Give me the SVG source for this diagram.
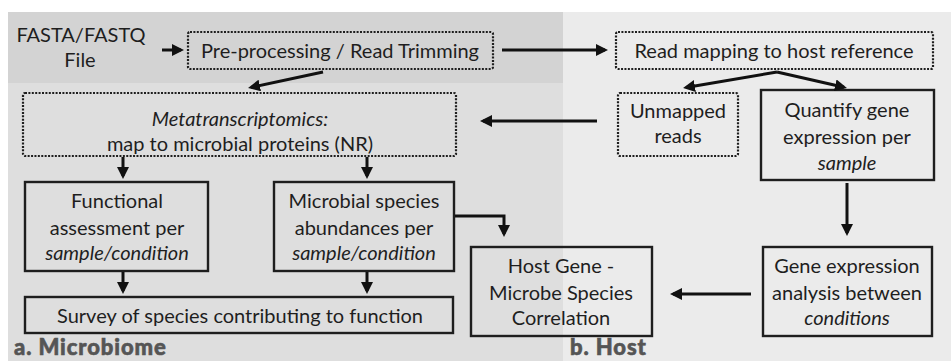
<svg xmlns="http://www.w3.org/2000/svg" width="951" height="361" viewBox="0 0 951 361">
  <style>
    .t { font-family: Lato, "Open Sans", "Liberation Sans", sans-serif; font-size: 20px; fill: #1e1e1e; text-anchor: middle; }
    .i { font-style: italic; }
    .lbl { font-family: Lato, "Liberation Sans", sans-serif; font-size: 22px; font-weight: 900; fill: #555555; letter-spacing: 0.9px; stroke: #555555; stroke-width: 0.6; }
    .dot { fill: none; stroke: #1e1e1e; stroke-width: 2.2; stroke-dasharray: 2 1.4; }
    .box { fill: none; stroke: #1e1e1e; stroke-width: 2.4; }
    .con { fill: none; stroke: #111111; stroke-width: 3; }
  </style>
  <defs>
    <marker id="arrow" markerUnits="userSpaceOnUse" viewBox="0 0 12 12" markerWidth="12" markerHeight="12" refX="9" refY="6" orient="auto">
      <path d="M0,0 L12,6 L0,12 z" fill="#111111"/>
    </marker>
  </defs>

  <!-- panel backgrounds -->
  <rect x="0" y="0" width="951" height="361" fill="#ffffff"/>
  <rect x="8" y="12" width="555" height="349" fill="#dedede"/>
  <rect x="8" y="12" width="555" height="71" fill="#d3d3d3"/>
  <rect x="563" y="12" width="388" height="349" fill="#ebebeb"/>

  <!-- input file -->
  <g id="input">
    <text class="t" x="81" y="42" font-size="22">FASTA/FASTQ</text>
    <text class="t" x="80" y="67" font-size="22">File</text>
  </g>

  <g id="preprocessing">
    <rect class="dot" x="188" y="32" width="305" height="37" rx="2"/>
    <text class="t" x="340" y="58" font-size="21">Pre-processing / Read Trimming</text>
  </g>

  <g id="read-mapping">
    <rect class="dot" x="616" y="32" width="317" height="37" rx="2"/>
    <text class="t" x="774" y="58" font-size="21">Read mapping to host reference</text>
  </g>

  <g id="metatranscriptomics">
    <rect class="dot" x="23" y="93" width="433" height="63" rx="2"/>
    <text class="t i" x="240" y="126">Metatranscriptomics:</text>
    <text class="t" x="240" y="151" font-size="21">map to microbial proteins (NR)</text>
  </g>

  <g id="unmapped">
    <rect class="dot" x="618" y="93" width="120" height="63" rx="2"/>
    <text class="t" x="678" y="118" font-size="21">Unmapped</text>
    <text class="t" x="678" y="143" font-size="21">reads</text>
  </g>

  <g id="quantify">
    <rect class="box" x="761" y="90" width="173" height="90"/>
    <text class="t" x="847" y="117">Quantify gene</text>
    <text class="t" x="847" y="144">expression per</text>
    <text class="t i" x="847" y="170">sample</text>
  </g>

  <g id="functional">
    <rect class="box" x="25" y="182" width="183" height="89"/>
    <text class="t" x="117" y="208">Functional</text>
    <text class="t" x="117" y="235">assessment per</text>
    <text class="t i" x="117" y="260">sample/condition</text>
  </g>

  <g id="microbial">
    <rect class="box" x="274" y="182" width="180" height="89"/>
    <text class="t" x="364" y="208">Microbial species</text>
    <text class="t" x="364" y="235">abundances per</text>
    <text class="t i" x="364" y="260">sample/condition</text>
  </g>

  <g id="survey">
    <rect class="box" x="25" y="297" width="428" height="36"/>
    <text class="t" x="240" y="323" font-size="20.5">Survey of species contributing to function</text>
  </g>

  <g id="correlation">
    <rect class="box" x="471" y="247" width="181" height="89"/>
    <text class="t" x="561" y="273">Host Gene -</text>
    <text class="t" x="561" y="300">Microbe Species</text>
    <text class="t" x="561" y="325">Correlation</text>
  </g>

  <g id="gene-expression">
    <rect class="box" x="763" y="247" width="169" height="89"/>
    <text class="t" x="847" y="273">Gene expression</text>
    <text class="t" x="847" y="300">analysis between</text>
    <text class="t i" x="847" y="325">conditions</text>
  </g>

  <!-- panel labels -->
  <text class="lbl" x="14" y="355">a. Microbiome</text>
  <text class="lbl" x="570" y="355">b. Host</text>

  <!-- connectors -->
  <g id="connectors">
    <path class="con" d="M162,50 H181" marker-end="url(#arrow)"/>
    <path class="con" d="M502,50 H605" marker-end="url(#arrow)"/>
    <path class="con" d="M323,72 L251,87.4" marker-end="url(#arrow)"/>
    <path class="con" d="M123,157 V176" marker-end="url(#arrow)"/>
    <path class="con" d="M367,157 V176" marker-end="url(#arrow)"/>
    <path class="con" d="M123,272 V291" marker-end="url(#arrow)"/>
    <path class="con" d="M367,272 V291" marker-end="url(#arrow)"/>
    <path class="con" d="M455,216 H504 V234" marker-end="url(#arrow)"/>
    <path class="con" d="M777,72 L686,87.5" marker-end="url(#arrow)"/>
    <path class="con" d="M777,72 L844,87.3" marker-end="url(#arrow)"/>
    <path class="con" d="M597,121 H483" marker-end="url(#arrow)"/>
    <path class="con" d="M847,183 V233" marker-end="url(#arrow)"/>
    <path class="con" d="M751,294 H673" marker-end="url(#arrow)"/>
  </g>
</svg>
